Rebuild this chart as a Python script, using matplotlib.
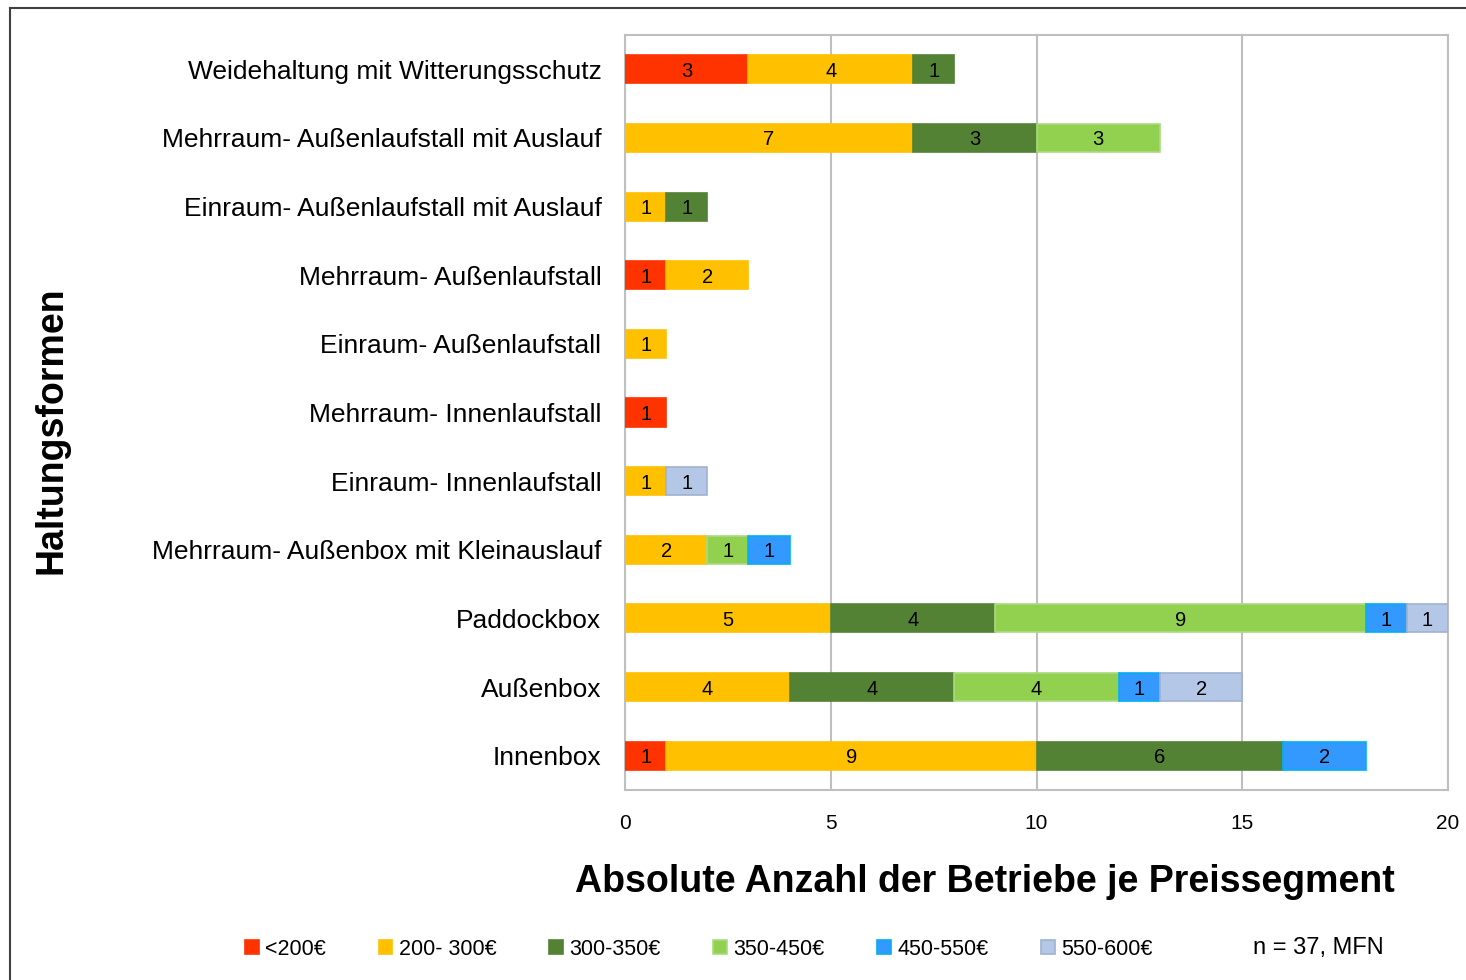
import matplotlib
matplotlib.use("Agg")
import matplotlib.pyplot as plt
from matplotlib.lines import Line2D
import numpy as np

categories = [
    "Weidehaltung mit Witterungsschutz",
    "Mehrraum- Außenlaufstall mit Auslauf",
    "Einraum- Außenlaufstall mit Auslauf",
    "Mehrraum- Außenlaufstall",
    "Einraum- Außenlaufstall",
    "Mehrraum- Innenlaufstall",
    "Einraum- Innenlaufstall",
    "Mehrraum- Außenbox mit Kleinauslauf",
    "Paddockbox",
    "Außenbox",
    "Innenbox",
]
segments = ["<200€", "200- 300€", "300-350€", "350-450€", "450-550€", "550-600€"]
v_lt200 = [3, 0, 0, 1, 0, 1, 0, 0, 0, 0, 1]
v_200_300 = [4, 7, 1, 2, 1, 0, 1, 2, 5, 4, 9]
v_300_350 = [1, 3, 1, 0, 0, 0, 0, 0, 4, 4, 6]
v_350_450 = [0, 3, 0, 0, 0, 0, 0, 1, 9, 4, 0]
v_450_550 = [0, 0, 0, 0, 0, 0, 0, 1, 1, 1, 2]
v_550_600 = [0, 0, 0, 0, 0, 0, 1, 0, 1, 2, 0]
series = [v_lt200, v_200_300, v_300_350, v_350_450, v_450_550, v_550_600]

fills = ["#FF3300", "#FFC000", "#548235", "#92D050", "#3399FF", "#B4C7E7"]
edges = ["#FF3300", "#FFC000", "#548235", "#A9DA80", "#00B0F0", "#A0B2CF"]

FONT = "Liberation Sans"

fig = plt.figure(figsize=(14.66, 9.8), dpi=100)
ax = fig.add_axes([625/1466, 1-790/980, (1448-625)/1466, (790-35)/980])

y = np.arange(len(categories))
left = np.zeros(len(categories))
handles = []
for vals, fc, ec, name in zip(series, fills, edges, segments):
    vals = np.array(vals, dtype=float)
    m = vals > 0
    bars = ax.barh(y[m], vals[m], left=left[m], height=0.41, color=fc, edgecolor=ec,
                   linewidth=1.2, zorder=3, label=name)
    for b, v in zip(bars, vals[m]):
        ax.text(b.get_x() + b.get_width()/2, b.get_y() + b.get_height()/2,
                f"{int(v)}", ha="center", va="center_baseline", fontsize=14.5,
                family=FONT, color="black", zorder=4)
    handles.append(bars)
    left += vals

ax.set_ylim(len(categories)-0.5, -0.5)
ax.set_xlim(0, 20)
ax.set_xticks([0, 5, 10, 15, 20])
ax.set_yticks(y)
ax.set_yticklabels(categories)
ax.tick_params(axis="y", length=0, pad=17, labelsize=19, labelfontfamily=FONT)
ax.tick_params(axis="x", length=0, pad=17, labelsize=15, labelfontfamily=FONT)
ax.grid(axis="x", color="#BFBFBF", linewidth=1.5, zorder=0)
ax.set_axisbelow(True)
for s in ax.spines.values():
    s.set_color("#BFBFBF")
    s.set_linewidth(1.5)

fig.text(52/1466, 1-430/980, "Haltungsformen", rotation=90, ha="center", va="center",
         fontsize=27, fontweight="bold", family=FONT)
fig.text(985/1466, 1-882/980, "Absolute Anzahl der Betriebe je Preissegment",
         ha="center", va="center", fontsize=27, fontweight="bold", family=FONT)

leg = fig.legend(handles=handles, labels=segments, loc="center left",
                 bbox_to_anchor=(245/1466, 1-949/980), ncol=6, frameon=False,
                 prop={"family": FONT, "size": 15.5},
                 handlelength=0.63, handleheight=0.63, handletextpad=0.3,
                 columnspacing=2.45, borderaxespad=0, borderpad=0)
fig.text(1318/1466, 1-948/980, "n = 37, MFN", ha="center", va="center",
         fontsize=17, family=FONT)

# outer frame
fig.add_artist(Line2D([10/1466, 10/1466], [0, 1-8/980], transform=fig.transFigure,
                      color="#404040", linewidth=1.5))
fig.add_artist(Line2D([10/1466, 1], [1-8/980, 1-8/980], transform=fig.transFigure,
                      color="#404040", linewidth=1.5))

fig.savefig("out.png", dpi=100)
